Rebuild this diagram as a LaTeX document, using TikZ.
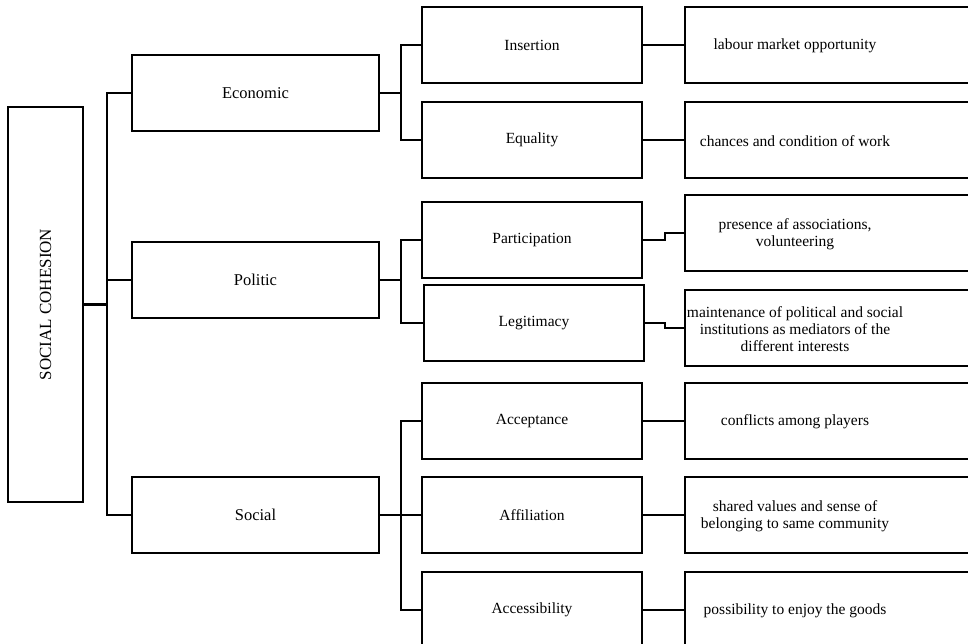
\documentclass[tikz,border=0pt]{standalone}
\usepackage{graphicx}
\usepackage{fontspec}
\setmainfont{Liberation Serif}
\tikzset{
  box/.style={draw, line width=2pt, inner sep=0pt, minimum height=76pt,
    font=\fontsize{15.5}{17.5}\selectfont},
  dim/.style={box, minimum width=247pt, font=\fontsize{16.5}{18}\selectfont},
  item/.style={box, minimum width=220pt},
  leaf/.style={box, minimum width=300pt},
  leaftxt/.style={xshift=-40pt, yshift=-1pt, align=center, inner sep=0pt,
    font=\fontsize{15.5}{17}\selectfont}
}
\begin{document}
\begin{tikzpicture}[x=1pt, y=-1pt, line width=2pt]
      \useasboundingbox (0, 0) rectangle (968, 644);
      \clip (0, 0) rectangle (968, 644);
      \node [box, minimum width=75pt, minimum height=395pt, font=\fontsize{17}{19}\selectfont]
        (root) at (45.5, 304.5) {\rotatebox{90}{SOCIAL COHESION}};
      \node [dim] (econ) at (255.5, 93) {Economic};
      \node [dim] (polit) at (255.5, 280) {Politic};
      \node [dim] (soc) at (255.5, 515) {Social};
      \node [item] (insert) at (532, 45) {Insertion};
      \node [item] (equal) at (532, 140) {Equality};
      \node [item] (partic) at (532, 240) {Participation};
      \node [item] (legit) at (534, 323) {Legitimacy};
      \node [item] (accept) at (532, 421) {Acceptance};
      \node [item] (affil) at (532, 515) {Affiliation};
      \node [item] (access) at (532, 610) {Accessibility};
      \node [leaf, label={[leaftxt]center:labour market opportunity}] (labour) at (835, 45) {};
      \node [leaf, label={[leaftxt]center:chances and condition of work}] (chance) at (835, 140) {};
      \node [leaf, label={[leaftxt]center:presence af associations,\\volunteering}] (presen) at (835, 233) {};
      \node [leaf, label={[leaftxt]center:maintenance of political and social\\institutions as mediators of the\\different interests}] (mainten) at (835, 328) {};
      \node [leaf, label={[leaftxt]center:conflicts among players}] (conflict) at (835, 421) {};
      \node [leaf, label={[leaftxt]center:shared values and sense of\\belonging to same community}] (shared) at (835, 515) {};
      \node [leaf, label={[leaftxt]center:possibility to enjoy the goods}] (possib) at (835, 610) {};
      \coordinate (t1) at (107, 0);
      \coordinate (t2) at (401, 0);
      \coordinate (t3) at (665, 0);
      \draw [line width=3pt] (root.east) -- (root.east -| t1);
      \draw (econ.west) -- (econ.west -| t1) -- (soc.west -| t1) -- (soc.west);
      \draw (polit.west) -- (polit.west -| t1);
      \draw (econ.east) -- (econ.east -| t2);
      \draw (insert.west) -- (insert.west -| t2) -- (equal.west -| t2) -- (equal.west);
      \draw (polit.east) -- (polit.east -| t2);
      \draw (partic.west) -- (partic.west -| t2) -- (legit.west -| t2) -- (legit.west);
      \draw (soc.east) -- (affil.west);
      \draw (accept.west) -- (accept.west -| t2) -- (access.west -| t2) -- (access.west);
      \draw (insert.east) -- (labour.west);
      \draw (equal.east) -- (chance.west);
      \draw (partic.east) -- (partic.east -| t3) |- (presen.west);
      \draw (legit.east) -- (legit.east -| t3) |- (mainten.west);
      \draw (accept.east) -- (conflict.west);
      \draw (affil.east) -- (shared.west);
      \draw (access.east) -- (possib.west);
    \end{tikzpicture}
\end{document}
